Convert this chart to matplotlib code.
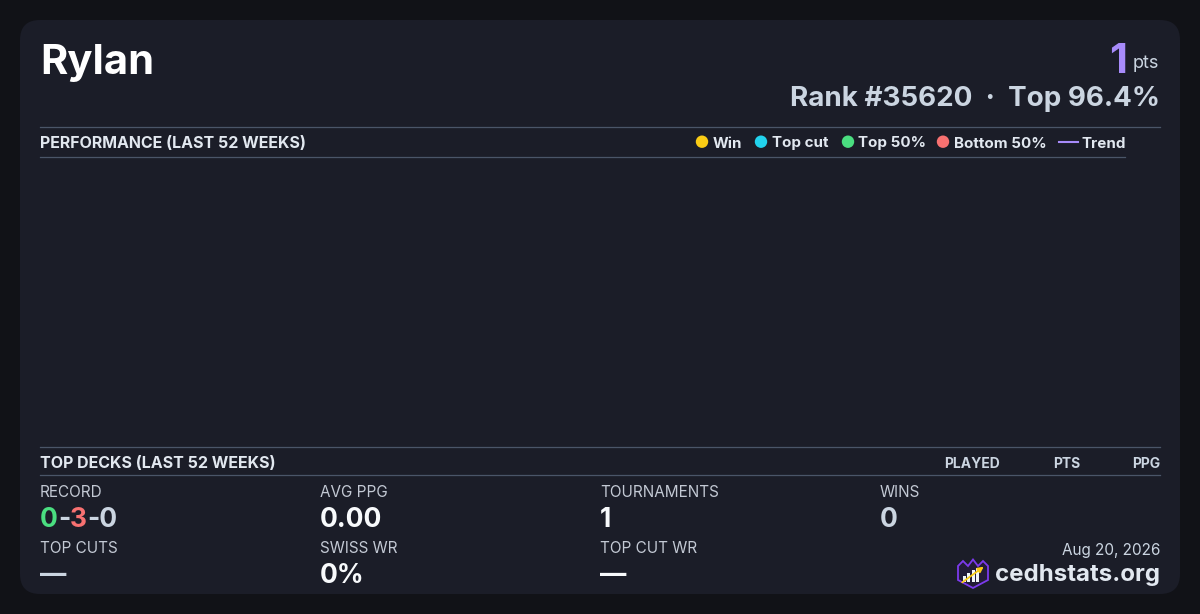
import matplotlib
matplotlib.use("Agg")
import matplotlib.pyplot as plt
from matplotlib.patches import FancyBboxPatch, Polygon, Circle, Rectangle

plt.rcParams["font.family"] = ["Inter", "DejaVu Sans"]

# ---- data ----
player_name = "Rylan"
points = "1"
rank_text = "Rank #35620  ·  Top 96.4%"

perf_weeks = []
perf_points = []
perf_colors = []

legend_labels = ["Win", "Top cut", "Top 50%", "Bottom 50%"]
legend_colors = ["#facc15", "#22d3ee", "#4ade80", "#f87171"]
trend_label = "Trend"
trend_color = "#a78bfa"

deck_columns = ["PLAYED", "PTS", "PPG"]

record_parts = ["0", "-", "3", "-0"]
record_colors = ["#4ade80", "#cbd5e1", "#f87171", "#cbd5e1"]

stat_labels = ["RECORD", "AVG PPG", "TOURNAMENTS", "WINS",
               "TOP CUTS", "SWISS WR", "TOP CUT WR"]
stat_values = [None, "0.00", "1", "0", "—", "0%", "—"]
stat_colors = [None, "#f8fafc", "#f8fafc", "#cbd5e1",
               "#cbd5e1", "#f8fafc", "#f8fafc"]

date_text = "Aug 20, 2026"
site_text = "cedhstats.org"

# ---- figure ----
BG = "#111217"
CARD = "#1b1d28"
LINE = "#4a5568"
LIGHT = "#e2e8f0"
MUTED = "#cbd5e1"

fig = plt.figure(figsize=(12, 6.14), dpi=100, facecolor=BG)
ax = fig.add_axes([0, 0, 1, 1])
ax.set_xlim(0, 1200)
ax.set_ylim(614, 0)
ax.axis("off")

ax.add_patch(FancyBboxPatch((20, 20), 1160, 574,
                            boxstyle="round,pad=0,rounding_size=20",
                            facecolor=CARD, edgecolor="none"))

# header
ax.text(40, 74, player_name, fontsize=30, fontweight="bold",
        color="#ffffff", va="baseline", ha="left")
ax.text(1159, 68.5, "pts", fontsize=13, color=MUTED,
        va="baseline", ha="right")
ax.text(1127, 73, points, fontsize=30, fontweight="bold",
        color="#a78bfa", va="baseline", ha="right")
ax.text(1160, 106.5, rank_text, fontsize=20, fontweight="bold",
        color=MUTED, va="baseline", ha="right")

# performance section
ax.plot([40, 1160], [126.5, 126.5], color=LINE, lw=0.9)
ax.plot([40, 1125], [156.5, 156.5], color=LINE, lw=0.9)
ax.text(40, 147.5, "PERFORMANCE (LAST 52 WEEKS)", fontsize=11.5,
        fontweight="bold", color=LIGHT, va="baseline", ha="left")

circle_x = [702, 761, 848, 943]
text_x = [712.5, 772, 858, 953.5]
for cx, tx, lab, col in zip(circle_x, text_x, legend_labels, legend_colors):
    ax.add_patch(Circle((cx, 141.7), 6.2, facecolor=col, edgecolor="none"))
    ax.text(tx, 147.5, lab, fontsize=10.9, fontweight="bold", color=LIGHT,
            va="baseline", ha="left")
ax.plot([1059, 1078], [141.7, 141.7], color=trend_color, lw=1.5)
ax.text(1082, 147.5, trend_label, fontsize=10.9, fontweight="bold",
        color=LIGHT, va="baseline", ha="left")

# chart area (no results in the window)
perf_ax = fig.add_axes([40 / 1200, (614 - 446) / 614,
                        1085 / 1200, 290 / 614])
perf_ax.scatter(perf_weeks, perf_points, c=perf_colors)
perf_ax.plot(perf_weeks, perf_points, color=trend_color)
perf_ax.set_facecolor("none")
perf_ax.axis("off")

# top decks
ax.plot([40, 1160], [446.5, 446.5], color=LINE, lw=0.9)
ax.plot([40, 1160], [474.5, 474.5], color=LINE, lw=0.9)
ax.text(40, 468, "TOP DECKS (LAST 52 WEEKS)", fontsize=11.5,
        fontweight="bold", color=LIGHT, va="baseline", ha="left")
col_right = [1000, 1080, 1160]
for name, xr in zip(deck_columns, col_right):
    ax.text(xr, 467.5, name, fontsize=10, fontweight="bold",
            color=MUTED, va="baseline", ha="right")

# stats grid
col_x = [40, 320, 600, 880]
label_y = [497, 553]
value_y = [527, 583]
fig.canvas.draw()
renderer = fig.canvas.get_renderer()
for i, lab in enumerate(stat_labels):
    cx = col_x[i % 4]
    row = i // 4
    ax.text(cx, label_y[row], lab, fontsize=11, color="#c3c9d4",
            va="baseline", ha="left")
    if stat_values[i] is None:
        x = cx
        for part, col in zip(record_parts, record_colors):
            t = ax.text(x, value_y[row], part, fontsize=19,
                        fontweight="bold", color=col,
                        va="baseline", ha="left")
            x += t.get_window_extent(renderer).width
    else:
        ax.text(cx, value_y[row], stat_values[i], fontsize=19,
                fontweight="bold", color=stat_colors[i],
                va="baseline", ha="left")

# footer
ax.text(1160, 555, date_text, fontsize=11, color=MUTED,
        va="baseline", ha="right")
ax.text(1160, 581.5, site_text, fontsize=17.3, fontweight="bold",
        color=LIGHT, va="baseline", ha="right")

shield = [(958, 566), (963, 561), (968, 566), (973, 559.5), (978, 566),
          (983, 561), (988, 566), (988, 580), (973, 588), (958, 580)]
ax.add_patch(Polygon(shield, closed=True, facecolor="#231c38",
                     edgecolor="#7c3aed", lw=1.3))
for bx, bh in zip([962.5, 967, 971.5, 976], [6, 9, 12, 14]):
    ax.add_patch(Rectangle((bx, 582 - bh), 3, bh, facecolor="#f1f5f9",
                           edgecolor="none"))
ax.annotate("", xy=(986, 565), xytext=(960, 584),
            arrowprops=dict(arrowstyle="-|>", color="#facc15", lw=1.3,
                            mutation_scale=8))

fig.savefig("out.png", dpi=100, facecolor=BG)
